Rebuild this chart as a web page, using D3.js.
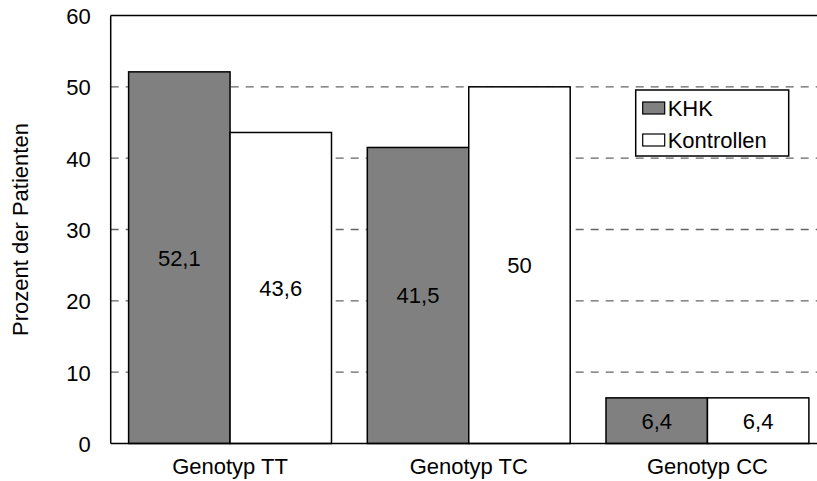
<!DOCTYPE html>
<html>
<head>
<meta charset="utf-8">
<script src="https://cdn.jsdelivr.net/npm/d3@7"></script>
<style>
  html, body { margin: 0; padding: 0; background: #fff; }
  svg { display: block; font-family: "Liberation Sans", Arial, sans-serif; }
</style>
</head>
<body>
<svg id="chart" width="817" height="481"></svg>
<script>
// Genotype distribution: KHK patients vs. controls (percent)
const categories = ["Genotyp TT", "Genotyp TC", "Genotyp CC"];
const seriesNames = ["KHK", "Kontrollen"];
const khkValues = [52.1, 41.5, 6.4];
const kontrollenValues = [43.6, 50, 6.4];
const yTicks = [0, 10, 20, 30, 40, 50, 60];
const yLabel = "Prozent der Patienten";

const fills = { "KHK": "#808080", "Kontrollen": "#ffffff" };
const fontSize = 22;

const svg = d3.select("#chart");
const plot = { left: 110.7, right: 826.8, top: 15.5, bottom: 443.5 };

const x = d3.scaleBand()
  .domain(categories)
  .range([plot.left, plot.right])
  .paddingInner(0.15)
  .paddingOuter(0.075);

const xInner = d3.scaleBand()
  .domain(seriesNames)
  .range([0, x.bandwidth()])
  .padding(0);

const y = d3.scaleLinear()
  .domain([0, 60])
  .range([plot.bottom, plot.top]);

const rows = categories.map((c, i) => ({
  category: c,
  values: [
    { series: "KHK", value: khkValues[i] },
    { series: "Kontrollen", value: kontrollenValues[i] }
  ]
}));

// dashed gridlines
svg.append("g")
  .selectAll("line")
  .data(yTicks.filter(t => t > 0 && t < 60))
  .join("line")
  .attr("x1", plot.left)
  .attr("x2", plot.right)
  .attr("y1", d => y(d))
  .attr("y2", d => y(d))
  .attr("stroke", "#666")
  .attr("stroke-width", 1.4)
  .attr("stroke-dasharray", "8,7");

// bars
const groups = svg.append("g")
  .selectAll("g")
  .data(rows)
  .join("g")
  .attr("transform", d => `translate(${x(d.category)},0)`);

groups.selectAll("rect")
  .data(d => d.values)
  .join("rect")
  .attr("x", d => xInner(d.series))
  .attr("y", d => y(d.value))
  .attr("width", xInner.bandwidth())
  .attr("height", d => y(0) - y(d.value))
  .attr("fill", d => fills[d.series])
  .attr("stroke", "#000")
  .attr("stroke-width", 1.5);

// value labels centered inside bars
groups.selectAll("text")
  .data(d => d.values)
  .join("text")
  .attr("x", d => xInner(d.series) + xInner.bandwidth() / 2)
  .attr("y", d => (y(d.value) + y(0)) / 2 + 8)
  .attr("text-anchor", "middle")
  .attr("font-size", fontSize)
  .attr("fill", "#000")
  .text(d => String(d.value).replace(".", ","));

// axes frame: left axis, baseline, top border
const frame = svg.append("g").attr("stroke", "#000").attr("stroke-width", 1.5);
frame.append("line")
  .attr("x1", plot.left).attr("x2", plot.left)
  .attr("y1", plot.top).attr("y2", plot.bottom);
frame.append("line")
  .attr("x1", plot.left).attr("x2", plot.right)
  .attr("y1", plot.bottom).attr("y2", plot.bottom);
frame.append("line")
  .attr("x1", plot.left).attr("x2", plot.right)
  .attr("y1", plot.top).attr("y2", plot.top);

// y tick labels
svg.append("g")
  .selectAll("text")
  .data(yTicks)
  .join("text")
  .attr("x", plot.left - 20)
  .attr("y", d => y(d) + 8.5)
  .attr("text-anchor", "end")
  .attr("font-size", fontSize)
  .text(d => d);

// category labels
svg.append("g")
  .selectAll("text")
  .data(categories)
  .join("text")
  .attr("x", d => x(d) + x.bandwidth() / 2)
  .attr("y", 473.5)
  .attr("text-anchor", "middle")
  .attr("font-size", fontSize)
  .text(d => d);

// y axis title
svg.append("text")
  .attr("transform", `translate(28,${(plot.top + plot.bottom) / 2}) rotate(-90)`)
  .attr("text-anchor", "middle")
  .attr("font-size", fontSize)
  .text(yLabel);

// legend
const legend = svg.append("g").attr("transform", "translate(635.7,90)");
legend.append("rect")
  .attr("width", 153)
  .attr("height", 66)
  .attr("fill", "#fff")
  .attr("stroke", "#000")
  .attr("stroke-width", 1.5);

const items = legend.selectAll("g.item")
  .data(seriesNames)
  .join("g")
  .attr("class", "item")
  .attr("transform", (d, i) => `translate(7,${12 + i * 32})`);

items.append("rect")
  .attr("width", 22)
  .attr("height", 12)
  .attr("fill", d => fills[d])
  .attr("stroke", "#000")
  .attr("stroke-width", 1.2);

items.append("text")
  .attr("x", 25)
  .attr("y", 13.5)
  .attr("font-size", fontSize)
  .text(d => d);
</script>
</body>
</html>
